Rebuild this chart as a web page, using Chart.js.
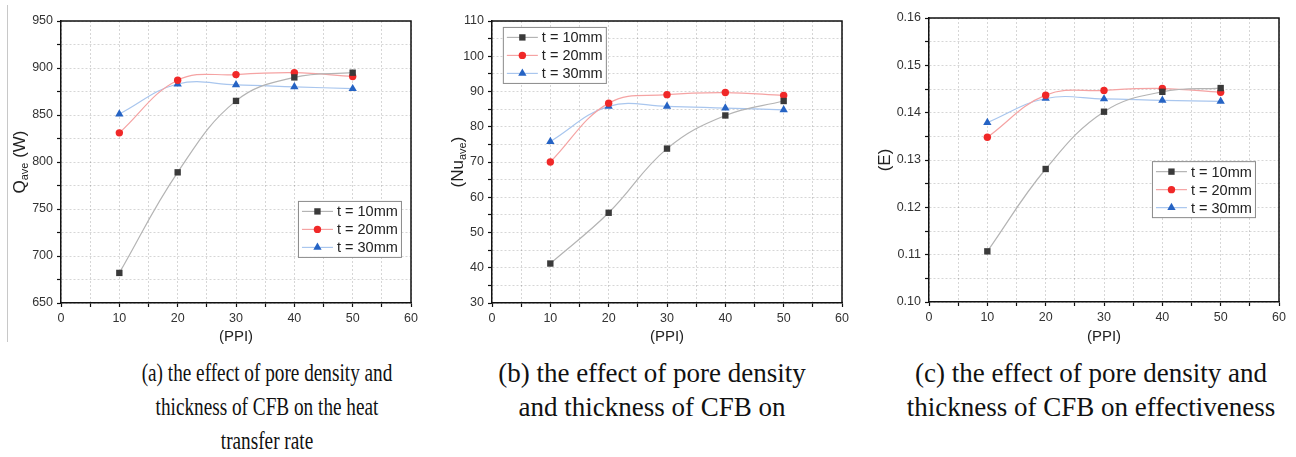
<!DOCTYPE html>
<html>
<head>
<meta charset="utf-8">
<script src="https://cdn.jsdelivr.net/npm/chart.js@4/dist/chart.umd.min.js"></script>
<style>
  html, body { margin: 0; padding: 0; background: #fff; }
  body { width: 1296px; height: 457px; position: relative; overflow: hidden; }
  .panel { position: absolute; top: 0; height: 350px; }
  .cap {
    position: absolute; top: 356px; width: 440px; text-align: center;
    font-family: 'Liberation Serif', 'Times New Roman', serif;
    font-size: 27px; line-height: 34px; color: #111;
  }
  .cap.narrow { font-size: 26px; transform: scaleX(0.74); transform-origin: 50% 0; }
  .edge { position: absolute; left: 7px; top: 5px; width: 1px; height: 337px; background: #c8c8c8; }
</style>
</head>
<body>
<div class="edge"></div>
<div class="panel" style="left:0;width:430px"><canvas id="chartQ" width="430" height="350"></canvas></div>
<div class="panel" style="left:430px;width:430px"><canvas id="chartNu" width="430" height="350"></canvas></div>
<div class="panel" style="left:860px;width:436px"><canvas id="chartE" width="436" height="350"></canvas></div>
<div class="cap narrow" style="left:47px">(a) the effect of pore density and<br>thickness of CFB on the heat<br>transfer rate</div>
<div class="cap" style="left:432px">(b) the effect of pore density<br>and thickness of CFB on</div>
<div class="cap" style="left:871px">(c) the effect of pore density and<br>thickness of CFB on effectiveness</div>

<script>
/* ── 데이터 ───────────────────────────────────── */
const PPI        = [10, 20, 30, 40, 50];
const SERIES     = ['t = 10mm', 't = 20mm', 't = 30mm'];
const X_TICKS    = [0, 10, 20, 30, 40, 50, 60];

const Q_TICKS    = [650, 700, 750, 800, 850, 900, 950];
const Q_T10      = [682, 789, 865, 890, 895];
const Q_T20      = [831, 887, 893, 895, 891];
const Q_T30      = [851, 883, 882, 880, 878];

const NU_TICKS   = [30, 40, 50, 60, 70, 80, 90, 100, 110];
const NU_T10     = [41.2, 55.6, 73.8, 83.2, 87.3];
const NU_T20     = [70.0, 86.7, 89.1, 89.7, 88.9];
const NU_T30     = [75.8, 85.8, 85.8, 85.3, 84.8];

const E_TICKS    = [0.10, 0.11, 0.12, 0.13, 0.14, 0.15, 0.16];
const E_T10      = [0.1107, 0.1281, 0.1402, 0.1444, 0.1452];
const E_T20      = [0.1348, 0.1437, 0.1447, 0.1451, 0.1443];
const E_T30      = [0.1379, 0.1430, 0.1429, 0.1426, 0.1424];

/* ── 스타일 ───────────────────────────────────── */
const STYLES = [
  { line: '#b4b4b4', mark: '#3a3a3a', shape: 'rect',     r: 4.5 },
  { line: '#f5a3a3', mark: '#f02828', shape: 'circle',   r: 3.7 },
  { line: '#a9c6ee', mark: '#2563c4', shape: 'triangle', r: 4.8 },
];
const FONT = "'Liberation Sans', Arial, sans-serif";

/* ── 마커 그리기 (범례용) ──────────────────────── */
function drawMarker(ctx, shape, x, y, r, color) {
  ctx.fillStyle = color;
  ctx.beginPath();
  if (shape === 'rect') {
    const s = r * Math.SQRT1_2;
    ctx.rect(x - s, y - s, 2 * s, 2 * s);
  } else if (shape === 'circle') {
    ctx.arc(x, y, r, 0, Math.PI * 2);
  } else {
    ctx.moveTo(x, y - r);
    ctx.lineTo(x + r * Math.cos(Math.PI / 6), y + r * 0.5);
    ctx.lineTo(x - r * Math.cos(Math.PI / 6), y + r * 0.5);
    ctx.closePath();
  }
  ctx.fill();
}

/* ── 프레임 + 범례 + y축 제목 플러그인 ────────── */
const panelDecor = {
  id: 'panelDecor',
  afterDraw(chart, args, opts) {
    const { ctx, chartArea: a } = chart;
    ctx.save();

    // 위/오른쪽 테두리
    ctx.strokeStyle = '#111';
    ctx.lineWidth = 1.5;
    ctx.beginPath();
    ctx.moveTo(a.left, a.top);
    ctx.lineTo(a.right, a.top);
    ctx.lineTo(a.right, a.bottom);
    ctx.stroke();

    // 범례
    const bx = a.left + (a.right - a.left) * opts.legendX;
    const by = a.top + (a.bottom - a.top) * opts.legendY;
    const bw = 103, bh = 56;
    ctx.fillStyle = '#fff';
    ctx.fillRect(bx, by, bw, bh);
    ctx.strokeStyle = '#8a8a8a';
    ctx.lineWidth = 1;
    ctx.strokeRect(bx + 0.5, by + 0.5, bw, bh);
    ctx.font = `14.5px ${FONT}`;
    ctx.textBaseline = 'middle';
    SERIES.forEach((label, i) => {
      const st = STYLES[i];
      const y  = by + 10.5 + i * 18;
      ctx.strokeStyle = st.line;
      ctx.lineWidth = 1.2;
      ctx.beginPath();
      ctx.moveTo(bx + 4, y);
      ctx.lineTo(bx + 35, y);
      ctx.stroke();
      drawMarker(ctx, st.shape, bx + 19.5, y, st.r, st.mark);
      ctx.fillStyle = '#222';
      ctx.fillText(label, bx + 39, y + 1);
    });

    // y축 제목 (아래 첨자 포함)
    ctx.translate(opts.titleX, (a.top + a.bottom) / 2);
    ctx.rotate(-Math.PI / 2);
    ctx.fillStyle = '#222';
    ctx.textBaseline = 'middle';
    const parts = opts.title;
    const big = `17px ${FONT}`, small = `11px ${FONT}`;
    let total = 0;
    parts.forEach(p => { ctx.font = p.sub ? small : big; total += ctx.measureText(p.text).width; });
    let x = -total / 2;
    parts.forEach(p => {
      ctx.font = p.sub ? small : big;
      ctx.fillText(p.text, x, p.sub ? 5 : 0);
      x += ctx.measureText(p.text).width;
    });
    ctx.restore();
  },
};

/* ── 차트 생성 ───────────────────────────────── */
function makeChart(id, series, yTicks, yStep, fmt, cfg) {
  const datasets = series.map((vals, i) => ({
    label:            SERIES[i],
    data:             PPI.map((x, k) => ({ x, y: vals[k] })),
    borderColor:      STYLES[i].line,
    backgroundColor:  STYLES[i].mark,
    borderWidth:      1.2,
    pointStyle:       STYLES[i].shape,
    pointRadius:      STYLES[i].r,
    pointBorderWidth: 0,
    tension:          0.4,
    fill:             false,
  }));

  const gridStyle = {
    color:      'rgba(0,0,0,0.16)',
    tickColor:  '#111',
    tickLength: 4,
    tickWidth:  1.2,
  };

  return new Chart(document.getElementById(id), {
    type: 'line',
    data: { datasets },
    options: {
      responsive: false,
      animation:  false,
      layout: { padding: cfg.padding },
      plugins: {
        legend:  { display: false },
        tooltip: { enabled: false },
        panelDecor: { legendX: cfg.legendX, legendY: cfg.legendY, titleX: cfg.titleX, title: cfg.title },
      },
      scales: {
        x: {
          type: 'linear',
          min: X_TICKS[0], max: X_TICKS[X_TICKS.length - 1],
          ticks: {
            stepSize: 5, autoSkip: false, maxRotation: 0, padding: 4,
            color: '#333', font: { family: FONT, size: 12.5 },
            callback: v => (X_TICKS.includes(v) ? String(v) : ''),
          },
          grid:   gridStyle,
          border: { color: '#111', width: 1.5, dash: [2, 2] },
          title:  { display: true, text: '(PPI)', color: '#222', font: { family: FONT, size: 15 }, padding: { top: 1, bottom: 4 } },
          afterFit(scale) { scale.height = cfg.xHeight; },
        },
        y: {
          min: yTicks[0], max: yTicks[yTicks.length - 1],
          ticks: {
            stepSize: yStep, autoSkip: false, padding: 4,
            color: '#333', font: { family: FONT, size: 12.5 },
            callback: v => {
              const hit = yTicks.find(t => Math.abs(t - v) < yStep / 10);
              return hit !== undefined ? fmt(hit) : '';
            },
          },
          grid:   gridStyle,
          border: { color: '#111', width: 1.5, dash: [2, 2] },
          afterFit(scale) { scale.width = cfg.yWidth; },
        },
      },
    },
    plugins: [panelDecor],
  });
}

makeChart('chartQ', [Q_T10, Q_T20, Q_T30], Q_TICKS, 25, v => String(v), {
  padding: { left: 21, right: 19, top: 21, bottom: 0 },
  yWidth: 40, xHeight: 47,
  legendX: 0.677, legendY: 0.638, titleX: 20,
  title: [{ text: 'Q' }, { text: 'ave', sub: true }, { text: ' (W)' }],
});

makeChart('chartNu', [NU_T10, NU_T20, NU_T30], NU_TICKS, 5, v => String(v), {
  padding: { left: 22, right: 18, top: 21, bottom: 0 },
  yWidth: 40, xHeight: 47,
  legendX: 0.031, legendY: 0.021, titleX: 28,
  title: [{ text: '(Nu' }, { text: 'ave', sub: true }, { text: ')' }],
});

makeChart('chartE', [E_T10, E_T20, E_T30], E_TICKS, 0.005, v => v.toFixed(2), {
  padding: { left: 21, right: 17, top: 18, bottom: 0 },
  yWidth: 48, xHeight: 48,
  legendX: 0.637, legendY: 0.504, titleX: 25,
  title: [{ text: '(E)' }],
});
</script>
</body>
</html>
